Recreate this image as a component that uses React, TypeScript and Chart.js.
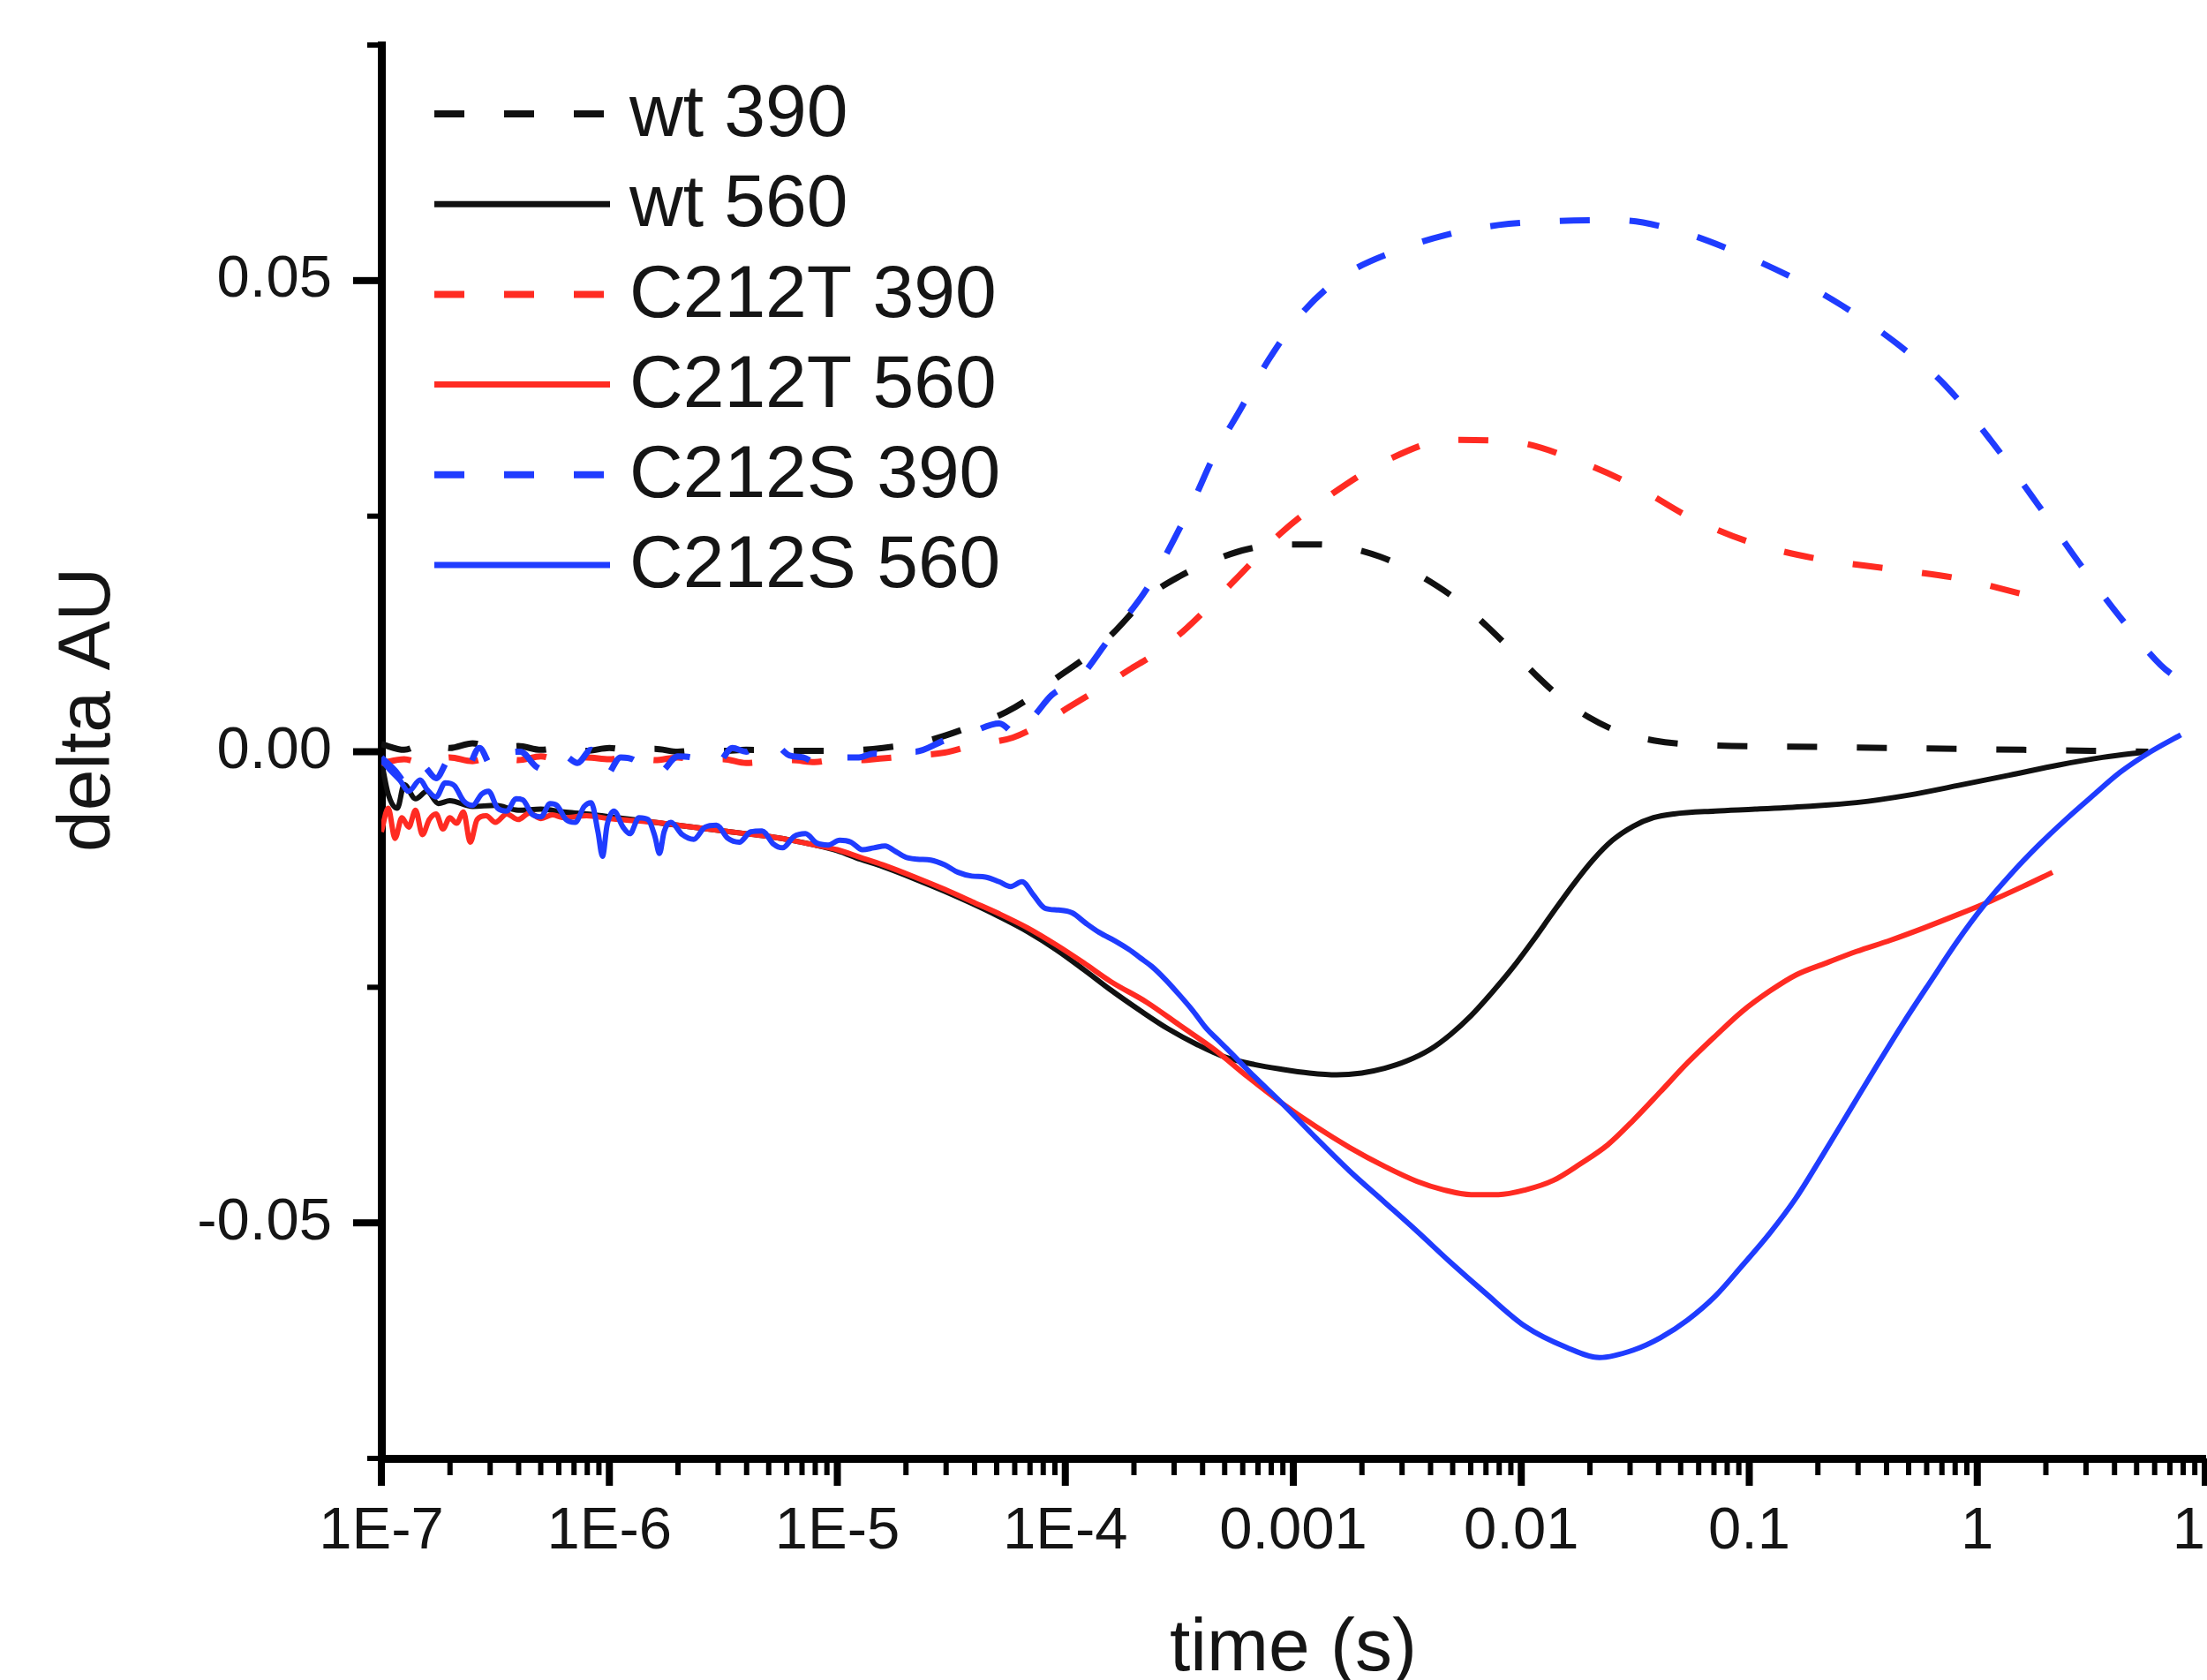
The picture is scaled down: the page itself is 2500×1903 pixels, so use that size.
import React, { useEffect, useRef } from 'react';
import { Chart, registerables } from 'chart.js';

Chart.register(...registerables);

const FONT = '"Liberation Sans", Arial, Helvetica, sans-serif';

// ---- axis ticks / labels ----
const xTickValues = [1e-7, 1e-6, 1e-5, 1e-4, 1e-3, 1e-2, 1e-1, 1, 10];
const xTickLabels = ['1E-7', '1E-6', '1E-5', '1E-4', '0.001', '0.01', '0.1', '1', '10'];
const xMinorMultipliers = [2, 3, 4, 5, 6, 7, 8, 9];
const yTickValues = [-0.05, 0, 0.05];
const yTickLabels = ['-0.05', '0.00', '0.05'];
const yMinorValues = [-0.075, -0.025, 0.025, 0.075];
const xTitle = 'time (s)';
const yTitle = 'delta AU';

// ---- series: [log10(time / s), delta AU] ----
const seriesLabels = ['wt 390', 'wt 560', 'C212T 390', 'C212T 560', 'C212S 390', 'C212S 560'];

const wt390 = [
  [-7.0, 0.0008], [-6.9, 0.0002], [-6.8, 0.0010], [-6.7, 0.0004], [-6.6, 0.0009], [-6.5, 0.0003],
  [-6.4, 0.0006], [-6.3, 0.0002], [-6.2, 0.0005], [-6.1, 0.0001], [-6.0, 0.0004], [-5.9, 0.0001],
  [-5.8, 0.0003], [-5.7, 0.0000], [-5.6, 0.0002], [-5.5, 0.0001], [-5.4, 0.0002], [-5.2, 0.0001],
  [-5.0, 0.0001], [-4.8, 0.0004], [-4.6, 0.0012], [-4.4, 0.0028], [-4.26, 0.0042], [-4.15, 0.0058],
  [-4.04, 0.0078], [-3.9, 0.0102], [-3.79, 0.0126], [-3.64, 0.0164], [-3.5, 0.0186], [-3.34, 0.0204],
  [-3.2, 0.0215], [-3.05, 0.0220], [-2.9, 0.0220], [-2.75, 0.0216], [-2.62, 0.0207], [-2.49, 0.0193],
  [-2.37, 0.0176], [-2.26, 0.0157], [-2.15, 0.0133], [-2.04, 0.0107], [-1.93, 0.0080], [-1.82, 0.0056],
  [-1.7, 0.0036], [-1.57, 0.0021], [-1.42, 0.0012], [-1.27, 0.0008], [-0.68, 0.0005], [-0.09, 0.0003],
  [0.5, 0.0001], [0.75, 0.0000],
];

const wt560 = [
  [-7.0, -0.0010], [-6.97, -0.0045], [-6.93, -0.0060], [-6.9, -0.0035], [-6.85, -0.0050], [-6.8, -0.0042],
  [-6.75, -0.0055], [-6.7, -0.0052], [-6.6, -0.0058], [-6.5, -0.0057], [-6.4, -0.0062], [-6.3, -0.0061],
  [-6.2, -0.0064], [-6.1, -0.0066], [-6.0, -0.0069], [-5.9, -0.0072], [-5.8, -0.0075], [-5.7, -0.0078],
  [-5.6, -0.0081], [-5.5, -0.0084], [-5.4, -0.0087], [-5.3, -0.0090], [-5.2, -0.0094], [-5.1, -0.0099],
  [-5.0, -0.0105], [-4.9, -0.0114], [-4.8, -0.0122], [-4.66, -0.0135], [-4.53, -0.0148], [-4.41, -0.0161],
  [-4.29, -0.0175], [-4.165, -0.0191], [-4.04, -0.0210], [-3.92, -0.0231], [-3.8, -0.0253], [-3.67, -0.0275],
  [-3.55, -0.0294], [-3.42, -0.0311], [-3.3, -0.0324], [-3.17, -0.0332], [-3.05, -0.0337], [-2.93, -0.0341],
  [-2.81, -0.0343], [-2.7, -0.0341], [-2.6, -0.0336], [-2.5, -0.0328], [-2.4, -0.0316], [-2.31, -0.0300],
  [-2.22, -0.0280], [-2.13, -0.0256], [-2.04, -0.0230], [-1.95, -0.0201], [-1.865, -0.0172], [-1.775, -0.0142],
  [-1.686, -0.0115], [-1.6, -0.0094], [-1.508, -0.0079], [-1.42, -0.0070], [-1.33, -0.0066], [-1.15, -0.0063],
  [-0.974, -0.0061], [-0.75, -0.0058], [-0.53, -0.0054], [-0.3, -0.0046], [-0.087, -0.0036], [0.14, -0.0025],
  [0.359, -0.0014], [0.55, -0.0006], [0.746, 0.0000],
];

const c212t390 = [
  [-7.0, -0.0012], [-6.9, -0.0008], [-6.8, -0.0014], [-6.7, -0.0006], [-6.6, -0.0010], [-6.5, -0.0004],
  [-6.4, -0.0009], [-6.3, -0.0005], [-6.2, -0.0011], [-6.1, -0.0006], [-6.0, -0.0008], [-5.9, -0.0004],
  [-5.8, -0.0009], [-5.7, -0.0006], [-5.6, -0.0010], [-5.5, -0.0008], [-5.4, -0.0012], [-5.3, -0.0010],
  [-5.2, -0.0009], [-5.1, -0.0011], [-5.0, -0.0008], [-4.9, -0.0009], [-4.8, -0.0007], [-4.66, -0.0004],
  [-4.53, -0.0001], [-4.4, 0.0007], [-4.23, 0.0015], [-4.1, 0.0030], [-3.98, 0.0048], [-3.85, 0.0067],
  [-3.72, 0.0087], [-3.6, 0.0105], [-3.464, 0.0132], [-3.257, 0.0182], [-3.05, 0.0233], [-2.84, 0.0272],
  [-2.575, 0.0311], [-2.31, 0.0331], [-2.04, 0.0329], [-1.745, 0.0308], [-1.478, 0.0279], [-1.27, 0.0250],
  [-1.005, 0.0223], [-0.707, 0.0205], [-0.38, 0.0194], [-0.087, 0.0184], [0.22, 0.0166],
];

const c212t560 = [
  [-7.0, -0.0085], [-6.97, -0.0060], [-6.94, -0.0092], [-6.91, -0.0070], [-6.88, -0.0080], [-6.85, -0.0062],
  [-6.82, -0.0088], [-6.79, -0.0072], [-6.76, -0.0066], [-6.73, -0.0082], [-6.7, -0.0070], [-6.67, -0.0076],
  [-6.64, -0.0064], [-6.61, -0.0096], [-6.58, -0.0072], [-6.54, -0.0068], [-6.5, -0.0075], [-6.45, -0.0066],
  [-6.4, -0.0072], [-6.35, -0.0065], [-6.3, -0.0071], [-6.25, -0.0067], [-6.2, -0.0070], [-6.1, -0.0068],
  [-6.0, -0.0071], [-5.9, -0.0073], [-5.8, -0.0075], [-5.7, -0.0078], [-5.6, -0.0081], [-5.5, -0.0084],
  [-5.4, -0.0087], [-5.3, -0.0090], [-5.2, -0.0094], [-5.1, -0.0099], [-5.0, -0.0104], [-4.9, -0.0112],
  [-4.8, -0.0120], [-4.66, -0.0133], [-4.53, -0.0146], [-4.41, -0.0159], [-4.29, -0.0172], [-4.165, -0.0187],
  [-4.04, -0.0205], [-3.92, -0.0224], [-3.8, -0.0244], [-3.642, -0.0266], [-3.5, -0.0290], [-3.346, -0.0316],
  [-3.2, -0.0345], [-3.05, -0.0373], [-2.9, -0.0398], [-2.753, -0.0420], [-2.6, -0.0440], [-2.457, -0.0456],
  [-2.34, -0.0465], [-2.22, -0.0470], [-2.1, -0.0470], [-1.982, -0.0465], [-1.86, -0.0455], [-1.745, -0.0438],
  [-1.62, -0.0417], [-1.508, -0.0391], [-1.39, -0.0361], [-1.27, -0.0330], [-1.15, -0.0302], [-1.033, -0.0276],
  [-0.91, -0.0254], [-0.796, -0.0237], [-0.66, -0.0224], [-0.53, -0.0212], [-0.38, -0.0200], [-0.234, -0.0187],
  [-0.087, -0.0173], [0.063, -0.0158], [0.2, -0.0143], [0.33, -0.0128],
];

const c212s390 = [
  [-7.0, -0.0006], [-6.94, -0.0020], [-6.88, -0.0036], [-6.82, -0.0015], [-6.76, -0.0028], [-6.7, -0.0008],
  [-6.63, -0.0020], [-6.57, 0.0004], [-6.51, -0.0018], [-6.45, -0.0002], [-6.39, 0.0000], [-6.32, -0.0016],
  [-6.26, -0.0021], [-6.2, -0.0004], [-6.14, -0.0012], [-6.08, 0.0002], [-6.02, -0.0027], [-5.95, -0.0006],
  [-5.89, -0.0009], [-5.83, -0.0024], [-5.77, -0.0021], [-5.7, -0.0005], [-5.64, -0.0006], [-5.58, -0.0016],
  [-5.52, -0.0012], [-5.46, 0.0004], [-5.4, 0.0000], [-5.34, 0.0010], [-5.28, 0.0009], [-5.21, -0.0004],
  [-5.15, -0.0006], [-5.09, -0.0012], [-5.03, -0.0012], [-4.97, -0.0006], [-4.905, -0.0006], [-4.84, -0.0002],
  [-4.78, -0.0003], [-4.72, 0.0002], [-4.66, 0.0000], [-4.53, 0.0012], [-4.41, 0.0021], [-4.29, 0.0030],
  [-4.21, 0.0018], [-4.13, 0.0040], [-4.06, 0.0060], [-3.94, 0.0078], [-3.79, 0.0126], [-3.645, 0.0172],
  [-3.524, 0.0225], [-3.435, 0.0268], [-3.346, 0.0315], [-3.228, 0.0365], [-3.108, 0.0416], [-2.96, 0.0466],
  [-2.78, 0.0505], [-2.546, 0.0532], [-2.337, 0.0548], [-2.1, 0.0559], [-1.865, 0.0563], [-1.567, 0.0564],
  [-1.33, 0.0554], [-1.094, 0.0534], [-0.826, 0.0505], [-0.59, 0.0473], [-0.352, 0.0433], [-0.145, 0.0390],
  [0.064, 0.0329], [0.27, 0.0261], [0.448, 0.0200], [0.626, 0.0143], [0.804, 0.0092], [0.893, 0.0075],
];

const c212s560 = [
  [-7.0, -0.0009], [-6.96, -0.0020], [-6.92, -0.0030], [-6.88, -0.0042], [-6.83, -0.0030], [-6.8, -0.0040],
  [-6.76, -0.0048], [-6.72, -0.0033], [-6.68, -0.0036], [-6.64, -0.0052], [-6.6, -0.0057], [-6.56, -0.0045],
  [-6.53, -0.0042], [-6.49, -0.0060], [-6.45, -0.0063], [-6.41, -0.0050], [-6.38, -0.0051], [-6.34, -0.0066],
  [-6.3, -0.0069], [-6.26, -0.0055], [-6.23, -0.0057], [-6.19, -0.0072], [-6.15, -0.0075], [-6.11, -0.0058],
  [-6.08, -0.0054], [-6.05, -0.0085], [-6.03, -0.0111], [-6.01, -0.0078], [-5.98, -0.0063], [-5.94, -0.0080],
  [-5.91, -0.0087], [-5.87, -0.0070], [-5.83, -0.0072], [-5.8, -0.0090], [-5.78, -0.0108], [-5.76, -0.0085],
  [-5.73, -0.0075], [-5.68, -0.0088], [-5.63, -0.0093], [-5.58, -0.0080], [-5.53, -0.0078], [-5.48, -0.0092],
  [-5.43, -0.0096], [-5.38, -0.0085], [-5.33, -0.0084], [-5.28, -0.0098], [-5.24, -0.0102], [-5.19, -0.0090],
  [-5.14, -0.0087], [-5.09, -0.0097], [-5.04, -0.0099], [-4.99, -0.0094], [-4.94, -0.0096], [-4.89, -0.0104],
  [-4.84, -0.0102], [-4.79, -0.0100], [-4.75, -0.0105], [-4.7, -0.0112], [-4.65, -0.0114], [-4.59, -0.0115],
  [-4.53, -0.0120], [-4.47, -0.0128], [-4.41, -0.0132], [-4.35, -0.0133], [-4.29, -0.0138], [-4.24, -0.0143],
  [-4.19, -0.0138], [-4.14, -0.0152], [-4.09, -0.0166], [-4.03, -0.0168], [-3.97, -0.0171], [-3.91, -0.0182],
  [-3.85, -0.0192], [-3.78, -0.0201], [-3.72, -0.0210], [-3.67, -0.0219], [-3.62, -0.0228], [-3.56, -0.0242],
  [-3.5, -0.0258], [-3.44, -0.0275], [-3.38, -0.0294], [-3.33, -0.0306], [-3.28, -0.0318], [-3.17, -0.0345],
  [-3.05, -0.0373], [-2.9, -0.0410], [-2.753, -0.0445], [-2.6, -0.0478], [-2.457, -0.0509], [-2.31, -0.0542],
  [-2.16, -0.0574], [-1.982, -0.0610], [-1.804, -0.0632], [-1.657, -0.0643], [-1.508, -0.0635], [-1.39, -0.0622],
  [-1.27, -0.0603], [-1.15, -0.0578], [-1.033, -0.0546], [-0.91, -0.0511], [-0.796, -0.0474], [-0.68, -0.0429],
  [-0.56, -0.0381], [-0.44, -0.0333], [-0.322, -0.0287], [-0.2, -0.0242], [-0.087, -0.0201], [0.03, -0.0163],
  [0.151, -0.0129], [0.27, -0.0099], [0.388, -0.0072], [0.51, -0.0046], [0.626, -0.0022], [0.76, 0.0000],
  [0.893, 0.0018],
];

const seriesData = [wt390, wt560, c212t390, c212t560, c212s390, c212s560];
const seriesColors = ['#111111', '#111111', '#ff2b22', '#ff2b22', '#1f3cff', '#1f3cff'];
const seriesDashed = [true, false, true, false, true, false];

const DASH = [34, 45];

const decorPlugin = {
  id: 'originDecor',
  afterDraw(chart: any) {
    const { ctx, chartArea: a, scales } = chart;
    const xs = scales.x;
    const ys = scales.y;
    ctx.save();
    ctx.strokeStyle = '#000';
    ctx.lineCap = 'butt';
    const seg = (x1: number, y1: number, x2: number, y2: number, w: number) => {
      ctx.lineWidth = w;
      ctx.beginPath();
      ctx.moveTo(x1, y1);
      ctx.lineTo(x2, y2);
      ctx.stroke();
    };
    // y ticks (outward, left)
    yTickValues.forEach((v) => {
      const p = ys.getPixelForValue(v);
      seg(a.left - 32, p, a.left, p, 8);
    });
    yMinorValues.forEach((v) => {
      const p = ys.getPixelForValue(v);
      seg(a.left - 16, p, a.left, p, 6);
    });
    // x ticks (outward, down)
    xTickValues.forEach((v) => {
      const p = xs.getPixelForValue(v);
      seg(p, a.bottom, p, a.bottom + 31, 8);
    });
    for (let i = 0; i < xTickValues.length - 1; i++) {
      for (const m of xMinorMultipliers) {
        const p = xs.getPixelForValue(xTickValues[i] * m);
        seg(p, a.bottom, p, a.bottom + 19, 6);
      }
    }

    // axis titles
    ctx.fillStyle = '#151515';
    ctx.font = `84px ${FONT}`;
    ctx.textAlign = 'center';
    ctx.textBaseline = 'alphabetic';
    ctx.fillText(xTitle, (a.left + a.right) / 2, a.bottom + 240);
    ctx.save();
    ctx.translate(a.left - 308, a.top + 753);
    ctx.rotate(-Math.PI / 2);
    ctx.fillText(yTitle, 0, 0);
    ctx.restore();

    // legend
    const datasets = chart.data.datasets;
    ctx.textAlign = 'left';
    ctx.textBaseline = 'middle';
    datasets.forEach((ds: any, i: number) => {
      const y = a.top + 78 + i * 102.2;
      ctx.save();
      ctx.strokeStyle = ds.borderColor;
      ctx.lineWidth = ds.borderWidth + 1;
      ctx.setLineDash(ds.borderDash || []);
      ctx.beginPath();
      ctx.moveTo(a.left + 60, y);
      ctx.lineTo(a.left + 259, y);
      ctx.stroke();
      ctx.restore();
      ctx.fillStyle = '#151515';
      ctx.fillText(ds.label, a.left + 281, y + 2);
    });
    ctx.restore();
  },
};

export default function App() {
  const canvasRef = useRef<HTMLCanvasElement | null>(null);

  useEffect(() => {
    document.body.style.margin = '0';
    const canvas = canvasRef.current;
    if (!canvas) return;

    const datasets = seriesLabels.map((label, i) => ({
      label,
      data: seriesData[i].map(([lt, v]) => ({ x: Math.pow(10, lt), y: v })),
      borderColor: seriesColors[i],
      backgroundColor: seriesColors[i],
      borderWidth: seriesDashed[i] ? 7 : 6,
      borderDash: seriesDashed[i] ? DASH : [],
      pointRadius: 0,
      fill: false,
      cubicInterpolationMode: 'monotone' as const,
      order: seriesLabels.length - i,
    }));

    const chart = new Chart(canvas, {
      type: 'line',
      data: { datasets },
      options: {
        responsive: false,
        devicePixelRatio: 1,
        animation: false,
        parsing: false as any,
        normalized: true,
        layout: { padding: { top: 51, right: 2, left: 0, bottom: 0 } },
        plugins: {
          legend: { display: false },
          tooltip: { enabled: false },
          title: { display: false },
        },
        scales: {
          x: {
            type: 'logarithmic',
            position: 'bottom',
            min: 1e-7,
            max: 10,
            border: { display: true, color: '#000', width: 9 },
            grid: { display: true, drawOnChartArea: false, drawTicks: false, color: 'rgba(0,0,0,0)' },
            afterBuildTicks: (scale: any) => {
              scale.ticks = xTickValues.map((v) => ({ value: v }));
            },
            afterFit: (scale: any) => {
              scale.height = 251;
              scale.paddingLeft = 0;
              scale.paddingRight = 0;
            },
            ticks: {
              autoSkip: false,
              maxRotation: 0,
              minRotation: 0,
              padding: 43,
              color: '#151515',
              font: { family: FONT, size: 67 },
              callback: (value: any) => {
                const idx = xTickValues.findIndex((t) => Math.abs(Math.log10(t) - Math.log10(Number(value))) < 1e-6);
                return idx >= 0 ? xTickLabels[idx] : '';
              },
            },
          },
          y: {
            type: 'linear',
            position: 'left',
            min: -0.075,
            max: 0.075,
            border: { display: true, color: '#000', width: 9 },
            grid: { display: true, drawOnChartArea: false, drawTicks: false, color: 'rgba(0,0,0,0)' },
            afterBuildTicks: (scale: any) => {
              scale.ticks = yTickValues.map((v) => ({ value: v }));
            },
            afterFit: (scale: any) => {
              scale.width = 432;
              scale.paddingTop = 0;
              scale.paddingBottom = 0;
            },
            ticks: {
              padding: 56,
              color: '#151515',
              font: { family: FONT, size: 67 },
              callback: (value: any) => {
                const idx = yTickValues.findIndex((t) => Math.abs(t - Number(value)) < 1e-9);
                return idx >= 0 ? yTickLabels[idx] : '';
              },
            },
          },
        },
      },
      plugins: [decorPlugin],
    });

    return () => chart.destroy();
  }, []);

  return (
    <div style={{ position: 'absolute', left: 0, top: 0, width: 2500, height: 1903, background: '#fff' }}>
      <canvas ref={canvasRef} width={2500} height={1903} style={{ display: 'block' }} />
    </div>
  );
}
